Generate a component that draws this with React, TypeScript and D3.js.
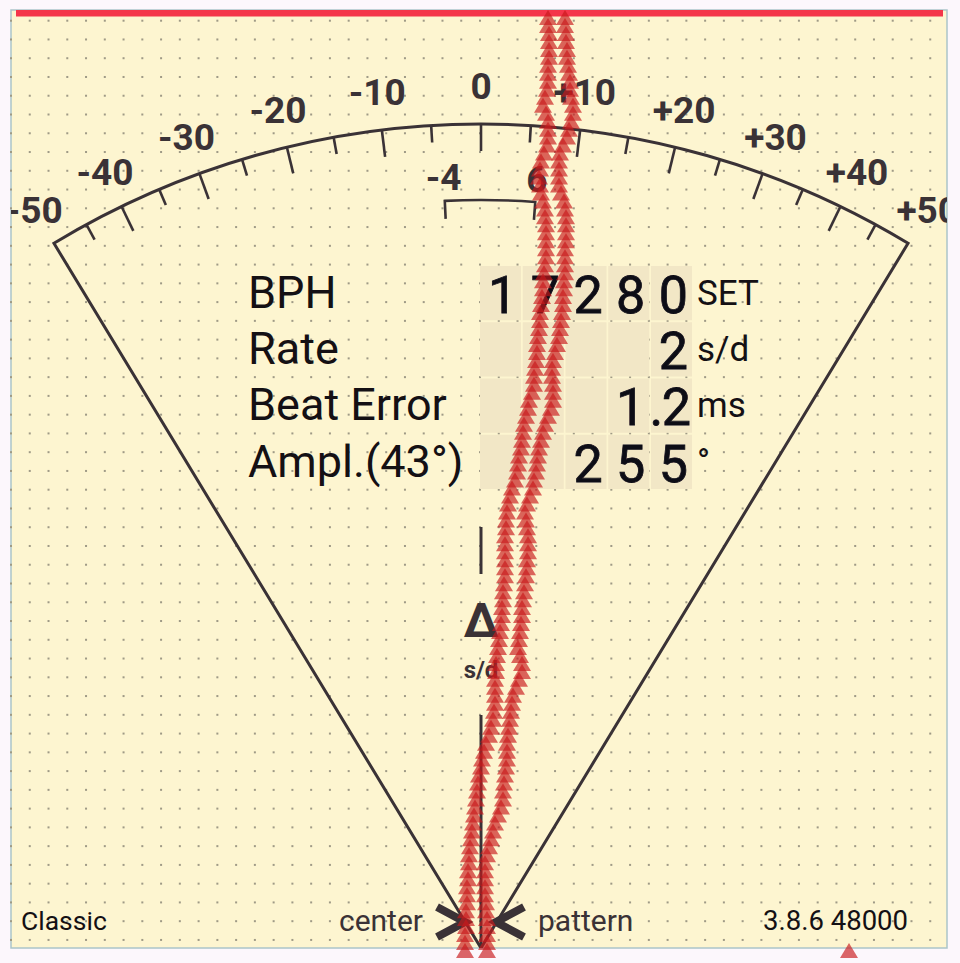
import React from "react";
import * as d3 from "d3";

// ---- data ----
const dialTicks = d3.range(-45, 50, 5);
const dialLabels = [-50, -40, -30, -20, -10, 0, 10, 20, 30, 40, 50];
const bracketRange = [-4, 6];
const rowLabels = ["BPH", "Rate", "Beat Error", "Ampl.(43°)"];
const rowUnits = ["SET", "s/d", "ms", "°"];
// digits per row, 5 columns ("" = empty cell)
const rowDigits = [
  ["1", "7", "2", "8", "0"],
  ["", "", "", "", "2"],
  ["", "", "", "1", ".2"],
  ["", "", "2", "5", "5"],
];
// trace offsets (timing deviation, px-units from centre), one value per beat, top to bottom
const traceA = [67,67,68,68,68,68,67,67,67,66,64,62,65,67,67,67,66,63,60,59,58,59,60,62,64,64,65,65,65,65,65,64,63,62,62,61,60,59,59,58,57,56,56,55,54,53,53,51,48,47,45,43,42,41,40,38,37,36,34,31,29,27,26,25,25,24,24,24,24,24,24,23,22,22,21,21,20,19,18,17,16,15,15,14,14,14,14,13,12,10,8,5,3,1,0,-2,-3,-4,-5,-6,-7,-8,-9,-10,-11,-12,-12,-13,-13,-14,-14,-14,-15,-15,-15,-16,-16,-16];
const traceB = [84,84,85,85,86,86,87,88,89,89,90,92,92,90,88,86,82,79,78,78,78,78,80,83,84,85,85,85,85,84,84,84,84,83,83,82,82,81,80,79,78,76,74,72,71,71,72,72,72,70,67,64,62,60,58,57,56,55,53,52,49,46,44,45,46,47,47,47,46,46,45,44,43,42,41,41,40,39,38,37,39,41,41,38,35,32,31,30,29,28,27,26,26,26,25,24,23,22,22,20,17,14,12,10,8,6,4,4,4,4,4,5,5,6,6,6,6,6];
const strayBeats = [{ i: 117, v: 368 }];

const W = 960, H = 963;
const cx = 481, cy = 948, R = 824;
const ink = "#3a3236";
const font = "Roboto, 'Noto Sans', sans-serif";

export default function App() {
  const tanScale = d3.scaleLinear().domain([-50, 50]).range([-0.606, 0.606]);
  const ang = (v: number) => Math.atan(tanScale(v));
  const pt = (v: number, r: number): [number, number] => [
    cx + r * Math.sin(ang(v)),
    cy - r * Math.cos(ang(v)),
  ];

  const sector = d3.path();
  const p0 = pt(-50, R);
  sector.moveTo(p0[0], p0[1]);
  sector.arc(cx, cy, R, -Math.PI / 2 + ang(-50), -Math.PI / 2 + ang(50));
  sector.lineTo(cx, cy);
  sector.closePath();

  const br = d3.path();
  const b0 = pt(bracketRange[0], 730);
  const b1 = pt(bracketRange[0], 748);
  br.moveTo(b0[0], b0[1]);
  br.lineTo(b1[0], b1[1]);
  br.arc(cx, cy, 748, -Math.PI / 2 + ang(bracketRange[0]), -Math.PI / 2 + ang(bracketRange[1]));
  const b3 = pt(bracketRange[1], 730);
  br.lineTo(b3[0], b3[1]);

  const dotsX = d3.range(11, 948, 18.76);
  const dotsY = d3.range(20.7, 948, 18.76);

  const colX = d3.scaleBand<number>().domain([0, 1, 2, 3, 4]).range([480, 692]).paddingInner(0.04);
  const rowY = d3.scaleBand<number>().domain([0, 1, 2, 3]).range([266, 489]).paddingInner(0.035);

  const xTrace = d3.scaleLinear().domain([-100, 100]).range([cx - 100, cx + 100]);
  const yTrace = d3.scaleLinear().domain([0, traceA.length - 1]).range([10, 943]);
  const tri = (x: number, y: number) => `M${x},${y}L${x + 9},${y + 15}L${x - 9},${y + 15}Z`;

  return (
    <svg width={W} height={H} style={{ position: "absolute", left: 0, top: 0 }} fontFamily={font}>
      <defs>
        <clipPath id="panel">
          <rect x={11} y={10} width={936} height={938} />
        </clipPath>
        <filter id="soft" x="-20%" y="-20%" width="140%" height="140%">
          <feGaussianBlur stdDeviation="0.6" />
        </filter>
      </defs>
      <rect x={0} y={0} width={W} height={H} fill="#fcf7fc" />
      <rect x={11} y={10} width={936} height={938} fill="#fdf5d0" stroke="#abc5c9" strokeWidth={1.5} />
      <g fill="#9f9a86">
        {dotsX.map((x) => dotsY.map((y) => <rect key={x + "_" + y} x={x - 1} y={y - 1} width={2} height={2} />))}
      </g>
      <rect x={16} y={10} width={927} height={6.5} fill="#f4364a" />

      <g clipPath="url(#panel)">
        <path d={sector.toString()} fill="none" stroke={ink} strokeWidth={3} strokeLinejoin="miter" />
        {dialTicks.map((v) => {
          const a = pt(v, R);
          const b = pt(v, R - (v % 10 === 0 ? 27 : 17));
          return <line key={v} x1={a[0]} y1={a[1]} x2={b[0]} y2={b[1]} stroke={ink} strokeWidth={2.6} />;
        })}
        {dialLabels.map((v) => {
          const p = pt(v, 862);
          return (
            <text key={v} x={p[0]} y={p[1]} textAnchor="middle" dominantBaseline="central" fontSize={37} fontWeight={700} fill={ink}>
              {v > 0 ? "+" + v : v < 0 ? "-" + -v : "0"}
            </text>
          );
        })}
        {bracketRange.map((v) => {
          const p = pt(v, 771);
          return (
            <text key={v} x={p[0]} y={p[1]} textAnchor="middle" dominantBaseline="central" fontSize={37} fontWeight={700} fill={ink}>
              {v < 0 ? "-" + -v : String(v)}
            </text>
          );
        })}
        <path d={br.toString()} fill="none" stroke={ink} strokeWidth={2.6} />

        <line x1={cx} y1={527} x2={cx} y2={574} stroke={ink} strokeWidth={3} />
        <line x1={cx} y1={715} x2={cx} y2={cy} stroke={ink} strokeWidth={3} />
        <text x={cx} y={637} textAnchor="middle" fontSize={48} fontWeight={700} fill={ink}>Δ</text>
        <text x={cx} y={678} textAnchor="middle" fontSize={24} fontWeight={700} fill={ink}>s/d</text>

        {rowDigits.map((row, r) =>
          row.map((_, c) => (
            <rect key={r + "-" + c} x={colX(c)} y={rowY(r)} width={colX.bandwidth()} height={rowY.bandwidth()} fill="#f2e7c6" />
          ))
        )}
        {rowLabels.map((l, r) => (
          <text key={l} x={248} y={(rowY(r) as number) + 42} fontSize={45} fill="#141014">{l}</text>
        ))}
        {rowUnits.map((u, r) => (
          <text key={u} x={697} y={(rowY(r) as number) + 39} fontSize={35} fill="#141014">{u}</text>
        ))}
        <g filter="url(#soft)" fill="#0e0a16" stroke="#0e0a16" strokeWidth={0.8}>
          {rowDigits.map((row, r) =>
            row.map((d, c) => {
              if (!d) return null;
              const x = (colX(c) as number) + colX.bandwidth() / 2 + 2;
              const y = (rowY(r) as number) + 47;
              if (d.startsWith(".")) {
                return (
                  <g key={r + "d" + c}>
                    <text x={x - 17} y={y} textAnchor="middle" fontSize={52}>.</text>
                    <text x={x + 3} y={y} textAnchor="middle" fontSize={52}>{d.slice(1)}</text>
                  </g>
                );
              }
              return (
                <text key={r + "d" + c} x={x} y={y} textAnchor="middle" fontSize={52}>{d}</text>
              );
            })
          )}
        </g>

        <text x={21} y={930} fontSize={26.5} fill="#141014">Classic</text>
        <text x={423} y={931} textAnchor="end" fontSize={30} fill={ink}>center</text>
        <text x={538} y={931} fontSize={30} fill={ink}>pattern</text>
        <text x={908} y={930} textAnchor="end" fontSize={27.5} fill="#141014">3.8.6 48000</text>
        <path d="M437,907 L465,922 L437,937" fill="none" stroke={ink} strokeWidth={8} strokeLinejoin="miter" />
        <path d="M524,907 L496,922 L524,937" fill="none" stroke={ink} strokeWidth={8} strokeLinejoin="miter" />
      </g>

      <g fill="#c9181b" fillOpacity={0.66}>
        {traceA.map((v, i) => <path key={"a" + i} d={tri(xTrace(v), yTrace(i))} />)}
        {traceB.map((v, i) => <path key={"b" + i} d={tri(xTrace(v), yTrace(i))} />)}
        {strayBeats.map((s) => <path key={"s" + s.i} d={tri(xTrace(s.v), yTrace(s.i))} />)}
      </g>
    </svg>
  );
}
